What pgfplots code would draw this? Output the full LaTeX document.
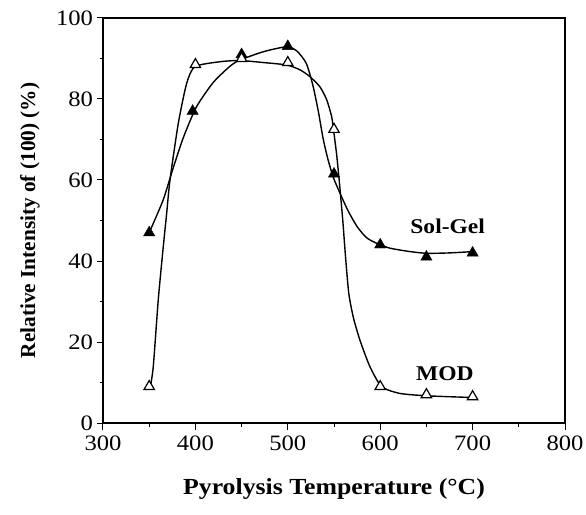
\documentclass[border=0pt]{standalone}
\usepackage{pgfplots}
\pgfplotsset{compat=1.18}
\usetikzlibrary{calc}
\usepackage{fontspec}
\setmainfont{Liberation Serif}[FakeStretch=1.12]
\newfontfamily\ylfont{Liberation Serif}
\begin{document}
\begin{tikzpicture}
\begin{axis}[
  scale only axis,
  width=462pt, height=405pt,
  xmin=300, xmax=800, ymin=0, ymax=100,
  xtick={300,400,...,800}, minor xtick={350,450,...,750},
  ytick={0,20,...,100}, minor ytick={10,30,...,90},
  tick pos=left,
  tick align=outside,
  major tick length=6.5pt, minor tick length=3.5pt,
  axis line style={line width=1.3pt},
  every tick/.style={black, line width=1pt},
  /pgf/number format/assume math mode=true,
  tick label style={font=\fontsize{22}{24}\selectfont},
  xticklabel style={yshift=-3pt},
  xlabel={\textbf{Pyrolysis Temperature (°C)}},
  ylabel={\ylfont\bfseries Relative Intensity of (100) (\%)},
  xlabel style={font=\fontsize{23}{26}\selectfont, at={(axis description cs:0.5,0)}, anchor=north, yshift=-52pt},
  ylabel style={font=\fontsize{21.3}{24}\selectfont, at={(axis description cs:0,0.5)}, anchor=center, yshift=73pt},
  clip=false,
]
% fitted curves
\addplot[black, line width=1.4pt, smooth, tension=0.4] coordinates {
 (350,47) (365,55) (376,63) (387,70.5) (401,78) (419,84) (437,88) (448,89.6)
 (474,91.7) (499,92.9) (510,91.8) (520,88.8) (527,83.5) (533,77) (538,70.5)
 (543,65.5) (549,60.8) (556,57) (565,52.5) (575,48.5) (585,45.8) (595,44.5)
 (610,43.2) (630,42.4) (650,41.9) (675,42) (699,42.3)};
\addplot[black, line width=1.4pt, smooth, tension=0.4] coordinates {
 (351,8.6) (354.4,13.9) (359.8,30.4) (365,43) (369,52) (372.5,60) (381.5,74)
 (390.6,83.9) (399.6,88) (426.6,89.2) (448.3,89.5) (473.5,89) (498.7,88.4)
 (513.2,87.2) (524,85.5) (534.8,83) (542.1,79.8) (547.5,75.6) (550,71.5)
 (553,66) (556,59) (559.5,50) (562.5,41) (566,32) (571,26) (578,20.5)
 (588.9,13.9) (601.5,9) (621.4,7.3) (652,6.7) (699,6.3)};
% data markers
\addplot[only marks, mark=triangle*, mark size=6.5pt, mark options={fill=black, draw=black}]
  coordinates {(350,47) (397,77) (450,91) (500,93) (550,61.5) (600,44) (650,41) (700,42)};
\addplot[only marks, mark=triangle*, mark size=6pt, mark options={fill=white, draw=black, line width=1.2pt}]
  coordinates {(350,9) (400,88.5) (450,90) (500,89) (550,72.5) (600,9) (650,7) (700,6.5)};
\node[font=\fontsize{21}{24}\selectfont\bfseries] at (axis cs:673,48.6) {Sol-Gel};
\node[font=\fontsize{21}{24}\selectfont\bfseries] at (axis cs:670,12.1) {MOD};
\end{axis}
\pgfresetboundingbox
\path ($(current axis.south west)+(-103pt,-91pt)$) rectangle ($(current axis.north east)+(21pt,18pt)$);
\end{tikzpicture}
\end{document}
